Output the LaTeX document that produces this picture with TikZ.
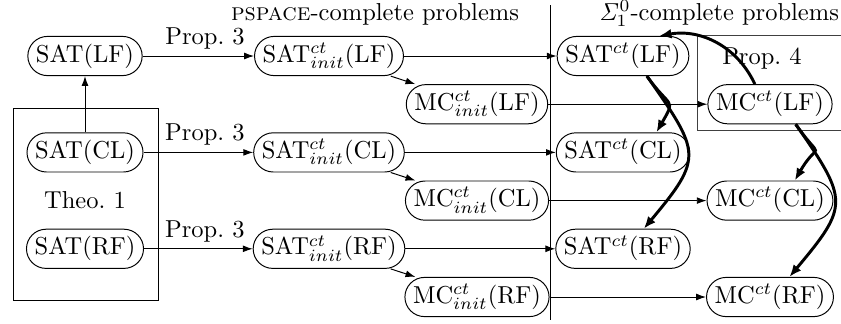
\documentclass[tikz,border=0pt]{standalone}
\usetikzlibrary{arrows.meta}
\begin{document}
\begin{tikzpicture}[x=0.4082pt, y=-0.4082pt,
  prob/.style={draw, rectangle, rounded corners=8pt, text height=7.5pt,
    text depth=2.5pt, inner xsep=3.33pt, inner ysep=3pt},
  reduc/.style={-{Latex[length=4pt,width=2.8pt]}},
  link/.style={-{Latex[length=5pt,width=4pt]}, line width=1.2pt},
  proplabel/.style={above, inner sep=2.6pt, pos=0.56}]
\useasboundingbox (0,0) rectangle (841,323);

% column headings and the separating rule
\node[anchor=base] (tpspace) at (375,20.5) {\textsc{pspace}-complete problems};
\node[anchor=base] (tsigma) at (719,20.5) {$\mathit{\Sigma}^0_1$-complete problems};
\draw (550,5) -- (550,320);

% frames grouping results
\draw (13,108) rectangle (158,300);
\node (theo) at (85,200.6) {Theo.~1};
\draw[black!75] (841,35) -- (697,35) -- (697,130) -- (841,130);
\node (prop4) at (762,59) {Prop.~4};

% satisfiability problems
\node[prob] (satLF) at (85,56)    {SAT(LF)};
\node[prob] (satCL) at (85,152.4) {SAT(CL)};
\node[prob] (satRF) at (85,248.8) {SAT(RF)};

% initial-state variants
\node[prob] (sinitLF) at (329,56)    {SAT$^{ct}_{init}$(LF)};
\node[prob] (sinitCL) at (329,152.4) {SAT$^{ct}_{init}$(CL)};
\node[prob] (sinitRF) at (329,248.8) {SAT$^{ct}_{init}$(RF)};
\node[prob] (minitLF) at (477,104.2) {MC$^{ct}_{init}$(LF)};
\node[prob] (minitCL) at (477,200.6) {MC$^{ct}_{init}$(CL)};
\node[prob] (minitRF) at (477,297)   {MC$^{ct}_{init}$(RF)};

% general variants
\node[prob] (sctLF) at (623,56)    {SAT$^{ct}$(LF)};
\node[prob] (sctCL) at (623,152.4) {SAT$^{ct}$(CL)};
\node[prob] (sctRF) at (623,248.8) {SAT$^{ct}$(RF)};
\node[prob] (mctLF) at (770,104.2) {MC$^{ct}$(LF)};
\node[prob] (mctCL) at (770,200.6) {MC$^{ct}$(CL)};
\node[prob] (mctRF) at (770,297)   {MC$^{ct}$(RF)};

% reductions
\draw[reduc] (satCL) -- (satLF);
\draw[reduc] (satLF) -- node[proplabel] (p3a) {Prop.~3} (sinitLF);
\draw[reduc] (satCL) -- node[proplabel] (p3b) {Prop.~3} (sinitCL);
\draw[reduc] (satRF) -- node[proplabel] (p3c) {Prop.~3} (sinitRF);

\foreach \l in {LF,CL,RF}{
  \draw[reduc] (sinit\l) -- (minit\l);
  \draw[reduc] (sinit\l) -- (sct\l);
  \draw[reduc] (minit\l) -- (mct\l);
}

% equivalences among the general variants
\draw[link] (mctLF.127) to[out=115,in=10] (sctLF.29);
\draw[link] (sctLF.-40) to[out=-55,in=60,looseness=1.8] (sctCL.31);
\draw[link] (sctLF.-40) to[out=-55,in=50,looseness=1.56] (sctRF.44);
\draw[link] (mctLF.-38) to[out=-55,in=60,looseness=2.2] (mctCL.39);
\draw[link] (mctLF.-38) to[out=-55,in=50,looseness=1.55] (mctRF.46);
\end{tikzpicture}
\end{document}
